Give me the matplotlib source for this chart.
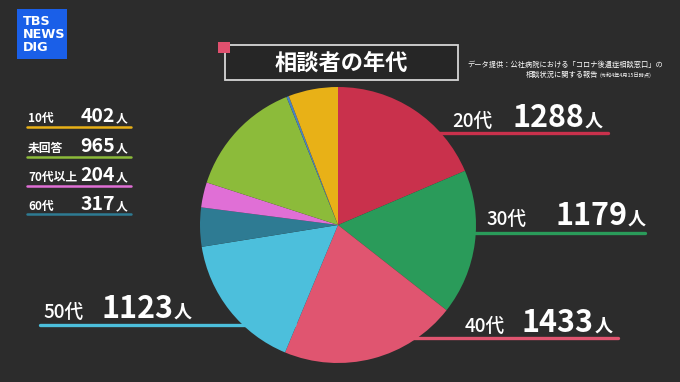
import matplotlib
matplotlib.use("Agg")
import matplotlib.pyplot as plt
from matplotlib.patches import Rectangle

plt.rcParams['font.family'] = ['Noto Sans CJK JP', 'DejaVu Sans']

# ---- data ----
categories = ['20代', '30代', '40代', '50代', '60代', '70代以上', '未回答', 'その他', '10代']
values = [1288, 1179, 1433, 1123, 317, 204, 965, 20, 402]
colors = ['#c9314c', '#2a9b5a', '#e05570', '#4cbfdc', '#2e7b93', '#e06fd6', '#8cbb3a', '#4a82c4', '#e8b117']
title = '相談者の年代'
source_line1 = 'データ提供：公社病院における「コロナ後遺症相談窓口」の'
source_line2 = '相談状況に関する報告'
source_date = '(令和4年4月15日時点)'
unit = '人'

W, H = 680, 382
BG = '#2c2c2c'
fig = plt.figure(figsize=(W / 100, H / 100), dpi=100, facecolor=BG)

# background / annotation axes in pixel coordinates
bg = fig.add_axes([0, 0, 1, 1], zorder=0)
bg.set_xlim(0, W)
bg.set_ylim(H, 0)
bg.axis('off')
bg.set_facecolor(BG)

# pie axes
cx, cy, r = 338, 225, 138
pax = fig.add_axes([(cx - r) / W, (H - cy - r) / H, 2 * r / W, 2 * r / H], zorder=2)
pax.pie(values, colors=colors, startangle=90, counterclock=False, radius=1,
        wedgeprops=dict(linewidth=0))
pax.set_xlim(-1, 1)
pax.set_ylim(-1, 1)
pax.set_aspect('equal')
pax.axis('off')
pax.patch.set_alpha(0)

col = dict(zip(categories, colors))
val = dict(zip(categories, values))

# big labels around the pie: (category, label_x, num_right_x, baseline_y, line_x0, line_x1, line_y)
big = [
    ('20代', 452, 584, 127, 400, 608, 133),
    ('30代', 486, 627, 225, 400, 645, 233),
    ('40代', 465, 594, 332, 400, 618, 338),
    ('50代', 43, 173, 318, 40, 300, 325),
]
for cat, lx, nx, by, x0, x1, ly in big:
    bg.plot([x0, x1], [ly, ly], color=col[cat], lw=2.4, solid_capstyle='round')
    bg.text(lx, by, cat, color='white', fontsize=13.5, ha='left', va='baseline', fontweight='medium')
    bg.text(nx, by, f'{val[cat]}', color='white', fontsize=22, ha='right', va='baseline', fontweight='bold')
    bg.text(nx + 1, by, unit, color='white', fontsize=13, ha='left', va='baseline', fontweight='bold')

# small legend on the left
small = [
    ('10代', 122, 127),
    ('未回答', 152, 157),
    ('70代以上', 181, 186),
    ('60代', 210, 214),
]
for cat, by, ly in small:
    bg.plot([27, 131], [ly, ly], color=col[cat], lw=1.8, solid_capstyle='round')
    bg.text(28, by, cat, color='white', fontsize=8.5, ha='left', va='baseline', fontweight='bold')
    bg.text(115, by, f'{val[cat]}', color='white', fontsize=14, ha='right', va='baseline', fontweight='bold')
    bg.text(116, by, unit, color='white', fontsize=8.5, ha='left', va='baseline', fontweight='bold')

# title box
bg.add_patch(Rectangle((225, 45), 233, 35, facecolor='#262626', edgecolor='#d6d6d6', lw=1.3, zorder=3))
bg.add_patch(Rectangle((218, 42), 12, 11, facecolor='#e0506e', edgecolor='none', zorder=4))
bg.text(341, 63, title, color='white', fontsize=16, ha='center', va='center', fontweight='bold', zorder=5)

# source note
bg.text(467, 67, source_line1, color='white', fontsize=5.2, ha='left', va='baseline')
bg.text(598, 77, source_line2, color='white', fontsize=5.2, ha='right', va='baseline')
bg.text(600, 77, source_date, color='white', fontsize=3.8, ha='left', va='baseline')

# TBS logo
bg.add_patch(Rectangle((17, 9), 50, 50, facecolor='#1a5fe8', edgecolor='none', zorder=3))
for i, t in enumerate(['TBS', 'NEWS', 'DIG']):
    bg.text(23, 25 + i * 13, t, color='white', fontsize=9.2, ha='left', va='baseline',
            fontweight='bold', family=['DejaVu Sans'], zorder=4)

fig.savefig('out.png', dpi=100, facecolor=BG)
